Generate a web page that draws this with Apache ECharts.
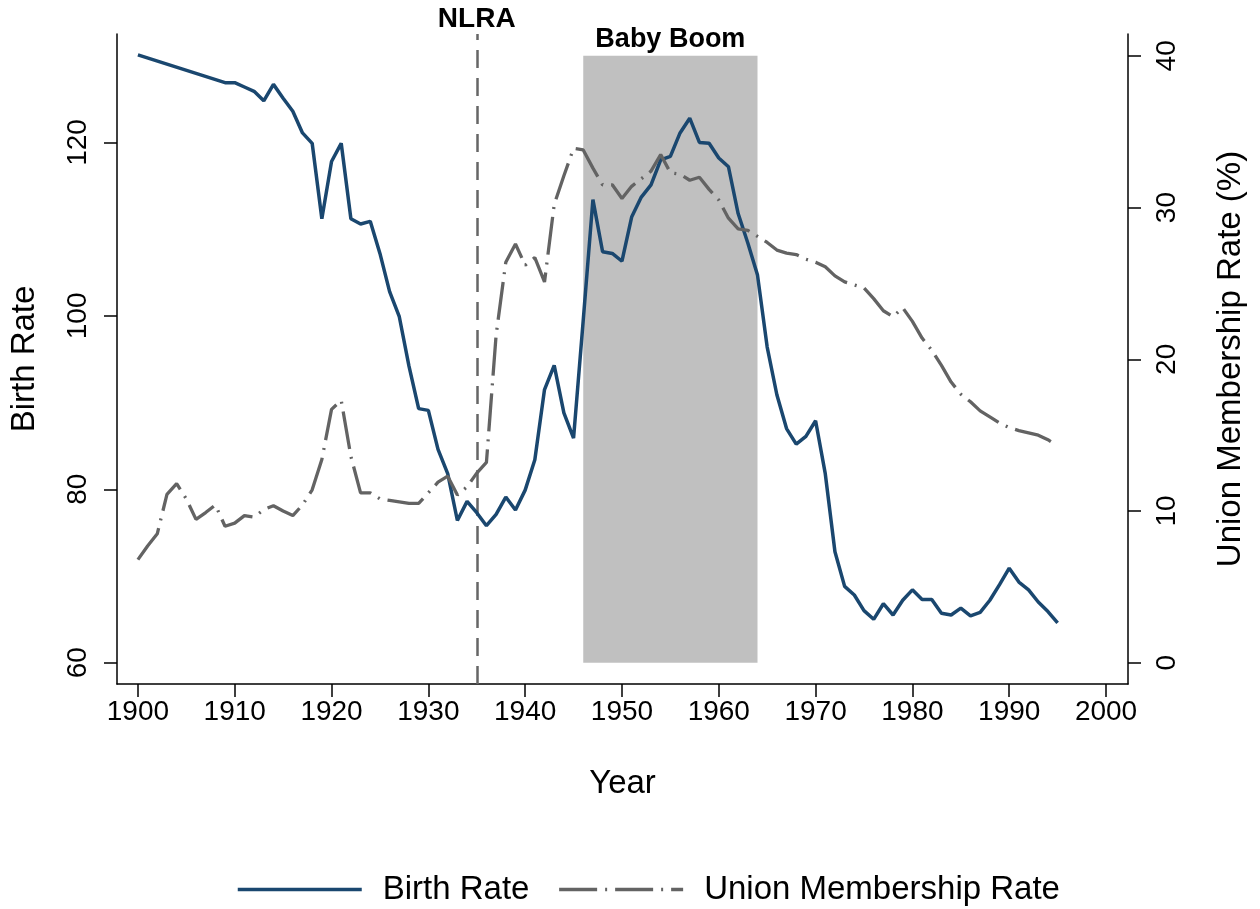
<!DOCTYPE html>
<html><head><meta charset="utf-8">
<script src="https://cdn.jsdelivr.net/npm/echarts@6/dist/echarts.min.js"></script>
<style>html,body{margin:0;padding:0;background:#fff}#c{width:1260px;height:909px}</style>
</head><body><div id="c"></div>
<script>
// ---- data ----
const birthYears = [1900,1909,1910,1911,1912,1913,1914,1915,1916,1917,1918,1919,1920,1921,1922,1923,1924,
  1925,1926,1927,1928,1929,1930,1931,1932,1933,1934,1935,1936,1937,1938,1939,1940,1941,1942,1943,1944,1945,
  1946,1947,1948,1949,1950,1951,1952,1953,1954,1955,1956,1957,1958,1959,1960,1961,1962,1963,1964,1965,1966,
  1967,1968,1969,1970,1971,1972,1973,1974,1975,1976,1977,1978,1979,1980,1981,1982,1983,1984,1985,1986,1987,
  1988,1989,1990,1991,1992,1993,1994,1995];
const birthValues = [130.1,126.9,126.9,126.4,125.9,124.8,126.7,125.1,123.6,121.1,119.9,111.2,117.8,119.9,111.2,110.6,110.9,
  107.2,102.8,99.9,94.2,89.3,89.1,84.6,81.8,76.4,78.6,77.3,75.8,77.1,79.1,77.6,79.9,83.4,91.5,94.3,88.8,85.9,
  99.5,113.4,107.4,107.2,106.3,111.4,113.7,115.1,118.0,118.4,121.1,122.8,120.0,119.9,118.2,117.2,111.8,108.4,104.7,96.4,90.9,
  87.0,85.2,86.1,87.9,81.8,72.8,68.8,67.8,66.0,65.0,66.8,65.5,67.2,68.4,67.3,67.3,65.7,65.5,66.3,65.4,65.8,
  67.2,69.0,70.9,69.3,68.4,67.0,65.9,64.6];
const unionYears = [];
for (let y = 1900; y <= 1995; y++) unionYears.push(y);
const unionValues = [6.8,7.7,8.5,11.1,11.8,10.8,9.45,9.9,10.4,9.0,9.2,9.7,9.6,10.1,10.35,10.0,9.7,10.4,11.4,13.4,
  16.7,17.3,13.6,11.2,11.2,10.8,10.7,10.6,10.5,10.5,11.2,11.9,12.3,11.05,11.6,12.5,13.2,21.6,26.4,27.6,
  26.2,26.7,25.1,30.2,32.1,33.9,33.8,32.6,31.5,31.5,30.6,31.4,31.9,32.4,33.5,32.3,32.2,31.8,32.0,31.2,
  30.5,29.3,28.6,28.5,28.1,27.7,27.2,27.0,26.9,26.6,26.4,26.1,25.5,25.1,24.9,24.7,24.0,23.2,22.8,23.4,
  22.5,21.4,20.6,19.6,18.5,17.7,17.2,16.6,16.2,15.8,15.5,15.3,15.15,15.0,14.7,14.3];
const xTicks = [1900,1910,1920,1930,1940,1950,1960,1970,1980,1990,2000];
const leftTicks = [60,80,100,120];
const rightTicks = [0,10,20,30,40];
const babyBoomYears = [1946, 1964];
const babyBoomRange = [60, 130];
const nlraYear = 1935;

// ---- chart ----
const FONT = '"Liberation Sans", Arial, Helvetica, sans-serif';
const BLUE = '#1a476f', GRAY = '#636363';
const UNION_DASH = [38,8,2,8];
const chart = echarts.init(document.getElementById('c'), null, {renderer:'canvas'});
const axisCommon = {
  axisLine:{show:true, onZero:false, lineStyle:{color:'#000', width:1.5}},
  splitLine:{show:false}
};
const birthData = birthYears.map((y,i)=>[y, birthValues[i]]);
const unionData = unionYears.map((y,i)=>[y, unionValues[i]]);
chart.setOption({
  animation:false,
  textStyle:{fontFamily:FONT},
  grid:{left:114, right:132, top:34, bottom:225},
  legend:{
    left:231, top:868, itemWidth:124, itemHeight:14, itemGap:28,
    itemStyle:{opacity:0, borderWidth:0},
    textStyle:{fontSize:33, color:'#000', fontFamily:FONT, padding:[0,0,0,16]},
    data:[
      {name:'Birth Rate', itemStyle:{opacity:0}, lineStyle:{color:BLUE, width:3.5, type:'solid', opacity:1}},
      {name:'Union Membership Rate', itemStyle:{opacity:0}, lineStyle:{color:GRAY, width:3.3, type:UNION_DASH, opacity:1}}
    ]
  },
  xAxis:Object.assign({
    type:'value', min:1897.84, max:2002.27,
    name:'Year', nameLocation:'middle', nameGap:83,
    nameTextStyle:{fontSize:33, color:'#000', fontFamily:FONT},
    axisTick:{show:true, length:13, customValues:xTicks, lineStyle:{color:'#000', width:1.5}},
    axisLabel:{customValues:xTicks, fontSize:28, color:'#000', margin:14, fontFamily:FONT, formatter:v=>String(v)}
  }, axisCommon),
  yAxis:[
    Object.assign({
      type:'value', position:'left', min:57.54, max:132.51,
      name:'Birth Rate', nameLocation:'middle', nameGap:76, nameRotate:90,
      nameTextStyle:{fontSize:33, color:'#000', fontFamily:FONT},
      axisTick:{show:true, length:13, customValues:leftTicks, lineStyle:{color:'#000', width:1.5}},
      axisLabel:{customValues:leftTicks, rotate:90, fontSize:28, color:'#000', margin:25, fontFamily:FONT, formatter:v=>String(v)}
    }, axisCommon),
    Object.assign({
      type:'value', position:'right', min:-1.40, max:41.44,
      name:'Union Membership Rate (%)', nameLocation:'middle', nameGap:86, nameRotate:90,
      nameTextStyle:{fontSize:33, color:'#000', fontFamily:FONT},
      axisTick:{show:true, length:13, customValues:rightTicks, lineStyle:{color:'#000', width:1.5}},
      axisLabel:{customValues:rightTicks, rotate:90, fontSize:28, color:'#000', margin:25, fontFamily:FONT, formatter:v=>String(v)}
    }, axisCommon)
  ],
  series:[
    {
      name:'Birth Rate', type:'line', xAxisIndex:0, yAxisIndex:0, data:birthData,
      symbol:'none', lineStyle:{color:BLUE, width:3.5}, itemStyle:{color:BLUE}, z:3,
      markArea:{
        silent:true, z:1,
        itemStyle:{color:'#c0c0c0'},
        label:{show:true, position:'top', distance:3, formatter:'Baby Boom', fontSize:27, fontWeight:'bold', color:'#000', fontFamily:FONT},
        data:[[{coord:[babyBoomYears[0], babyBoomRange[0]]},{coord:[babyBoomYears[1], babyBoomRange[1]]}]]
      },
      markLine:{
        silent:true, symbol:'none', z:2,
        lineStyle:{color:'#666', width:2.5, type:[18,10]},
        label:{show:true, position:'end', distance:1, formatter:'NLRA', fontSize:28, fontWeight:'bold', color:'#000', fontFamily:FONT},
        data:[{xAxis:nlraYear}]
      }
    },
    {
      name:'Union Membership Rate', type:'line', xAxisIndex:0, yAxisIndex:1, data:unionData,
      symbol:'none', lineStyle:{color:GRAY, width:3.3, type:UNION_DASH}, itemStyle:{color:GRAY}, z:4
    }
  ]
});
</script></body></html>
